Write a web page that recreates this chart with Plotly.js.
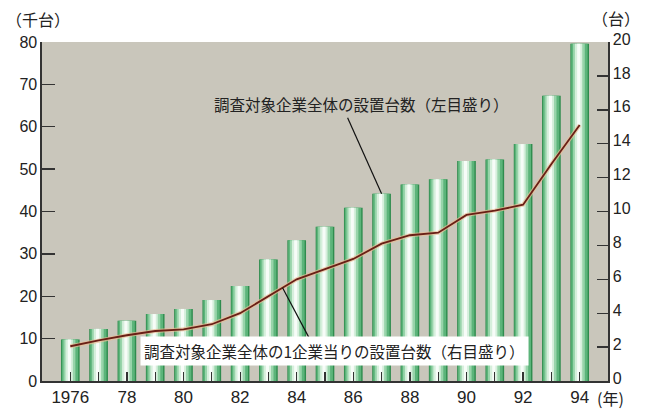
<!DOCTYPE html>
<html>
<head>
<meta charset="utf-8">
<script src="https://cdn.plot.ly/plotly-3.0.1.min.js"></script>
<style>html,body{margin:0;padding:0;background:#fff;}#chart{width:646px;height:410px;}</style>
</head>
<body>
<div id="chart"></div>
<script>
// ---- data ----
var years = [1976,1977,1978,1979,1980,1981,1982,1983,1984,1985,1986,1987,1988,1989,1990,1991,1992,1993,1994];
var totalUnits = [9.8,12.3,14.2,15.8,17.0,19.1,22.4,28.7,33.2,36.4,40.9,44.2,46.4,47.6,51.9,52.3,55.9,67.3,79.6]; // 千台 (left)
var perCompany = [2.05,2.4,2.7,2.95,3.05,3.35,4.0,5.0,6.0,6.6,7.2,8.1,8.6,8.75,9.8,10.05,10.4,12.8,15.1]; // 台 (right)
var xTickText = ['1976','','78','','80','','82','','84','','86','','88','','90','','92','','94'];
var labelTotal = '調査対象企業全体の設置台数（左目盛り）';
var labelPer = '調査対象企業全体の1企業当りの設置台数（右目盛り）';
var unitLeft = '（千台）', unitRight = '（台）', unitX = '(年)';

// cylinder-like bars built from overlaid layers
var layers = [
  {w:0.66, o:-0.33, c:'#2f8c4e'},
  {w:0.58, o:-0.30, c:'#5cb47a'},
  {w:0.42, o:-0.24, c:'#98d4aa'},
  {w:0.26, o:-0.17, c:'#d6efdc'},
  {w:0.11, o:-0.09, c:'#f7fcf8'}
];
var traces = layers.map(function(L){
  return {type:'bar', x:years, y:totalUnits, width:L.w, offset:L.o,
          marker:{color:L.c, line:{width:0}}, hoverinfo:'skip', showlegend:false};
});
traces.push({type:'scatter', mode:'lines', x:years, y:perCompany, yaxis:'y2',
  line:{color:'rgba(235,190,150,0.7)', width:4}, hoverinfo:'skip', showlegend:false});
traces.push({type:'scatter', mode:'lines', x:years, y:perCompany, yaxis:'y2',
  line:{color:'#6a1f16', width:1.8}, hoverinfo:'skip', showlegend:false});

var axCol = '#333';
var cjk = '"Noto Sans CJK JP", "Noto Sans", sans-serif';
var num = '"Liberation Sans", Arial, sans-serif';

var layout = {
  width:646, height:410,
  margin:{l:42, r:38, t:42, b:29, pad:0},
  paper_bgcolor:'#ffffff', plot_bgcolor:'#c9c6bb',
  barmode:'overlay', showlegend:false,
  xaxis:{range:[1975,1995], tickvals:years, ticktext:xTickText, ticks:'inside', ticklen:9,
         tickcolor:axCol, tickwidth:1.2, showline:true, linecolor:axCol, linewidth:1.6,
         showgrid:false, zeroline:false, tickfont:{family:num, size:17, color:'#222'}, fixedrange:true},
  yaxis:{range:[0,80], dtick:10, ticks:'inside', ticklen:13, tickcolor:axCol, tickwidth:1.4,
         showline:true, linecolor:axCol, linewidth:1.6, showgrid:false, zeroline:false,
         tickfont:{family:num, size:16, color:'#222'}, fixedrange:true},
  yaxis2:{range:[0,20], dtick:2, overlaying:'y', side:'right', ticks:'inside', ticklen:11,
          tickcolor:axCol, tickwidth:1.4, showline:true, linecolor:axCol, linewidth:1.6,
          showgrid:false, zeroline:false, ticklabelshift:-3,
          tickfont:{family:num, size:16, color:'#222'}, fixedrange:true},
  annotations:[
    {xref:'paper', yref:'paper', x:0.5647, y:0.8164, text:labelTotal, showarrow:false,
     xanchor:'center', yanchor:'middle', font:{family:cjk, size:15.5, color:'#222'}},
    {xref:'paper', yref:'paper', x:0.516, y:0.0884, text:labelPer, showarrow:false,
     xanchor:'center', yanchor:'middle', bgcolor:'#ffffff', borderpad:3,
     font:{family:cjk, size:15.5, color:'#222'}},
    {xref:'paper', yref:'paper', x:-0.0065, y:1.068, text:unitLeft, showarrow:false,
     xanchor:'center', yanchor:'middle', font:{family:cjk, size:16, color:'#222'}},
    {xref:'paper', yref:'paper', x:1.0141, y:1.0713, text:unitRight, showarrow:false,
     xanchor:'center', yanchor:'middle', font:{family:cjk, size:16, color:'#222'}},
    {xref:'paper', yref:'paper', x:1.004, y:-0.0501, text:unitX, showarrow:false,
     xanchor:'center', yanchor:'middle', font:{family:cjk, size:16, color:'#222'}}
  ],
  shapes:[
    {type:'line', xref:'x', yref:'y', xsizemode:'pixel', ysizemode:'pixel',
     xanchor:years[11], yanchor:totalUnits[11], x0:0, y0:0, x1:-34, y1:76,
     line:{color:'#111', width:1.2}},
    {type:'line', xref:'x', yref:'y2', xsizemode:'pixel', ysizemode:'pixel',
     xanchor:(years[7]+years[8])/2, yanchor:(perCompany[7]+perCompany[8])/2,
     x0:0, y0:0, x1:26.8, y1:-50.6, line:{color:'#111', width:1.2}}
  ]
};
Plotly.newPlot('chart', traces, layout, {staticPlot:true, displayModeBar:false});
</script>
</body>
</html>
